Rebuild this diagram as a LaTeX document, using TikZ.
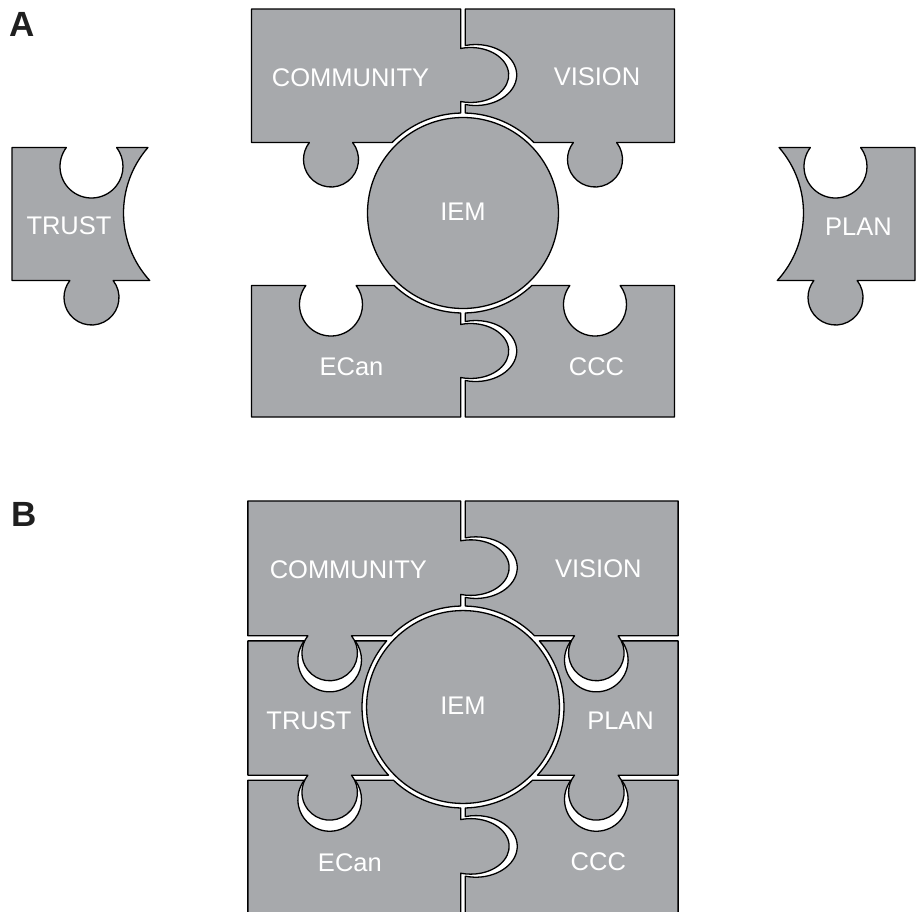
\documentclass[tikz,border=0pt]{standalone}
\usepackage{fontspec}
\setmainfont{Liberation Sans}
\definecolor{puzzlegray}{RGB}{167,169,172}
\tikzset{
  piece/.style={fill=puzzlegray, draw=black, line width=1.3pt, line join=round},
  hub/.style={fill=puzzlegray, draw=black, line width=1.3pt},
  lbl/.style={text=white, font=\fontsize{25.5}{30}\selectfont, inner sep=0pt, anchor=center},
  panel/.style={font=\bfseries\fontsize{35}{40}\selectfont, inner sep=0pt, text=black!88}
}

% ---- puzzle pieces, local frame centred on the hub (y up) ----
\newcommand{\drawCommunityPiece}{%
  \draw[piece] (-\pzW,\pzTt) -- (-\pzg,\pzTt) -- (-\pzg,{\pzyc+\pzhkn})
    arc[start angle=\pzhka, end angle=-\pzhka, x radius=38, y radius=27.5]
    -- ({90+\pzag}:\pzR)
    arc[start angle={90+\pzag}, end angle={180-\pzaT}, radius=\pzR]
    -- ({-\pzkx+\pzkn},\pzTb)
    arc[start angle=\pzka, end angle={-180-\pzka}, radius=\pzkr]
    -- (-\pzW,\pzTb) -- cycle;}
\newcommand{\drawVisionPiece}{%
  \draw[piece] (\pzg,\pzTt) -- (\pzW,\pzTt) -- (\pzW,\pzTb) -- ({\pzkx+\pzkn},\pzTb)
    arc[start angle=\pzka, end angle={-180-\pzka}, radius=\pzkr]
    -- ({\pzaT}:\pzR)
    arc[start angle=\pzaT, end angle={90-\pzag}, radius=\pzR]
    -- (\pzg,{\pzyc-\pzhsn})
    arc[start angle=-\pzhsa, end angle=\pzhsa, x radius=41, y radius=30.5]
    -- cycle;}
\newcommand{\drawTrustPiece}{%
  \draw[piece] (-\pzW,\pzMt) -- ({-\pzkx-\pzsn},\pzMt)
    arc[start angle={180-\pzsa}, end angle={360+\pzsa}, radius=\pzsr]
    -- ({180-\pzaM}:\pzR)
    arc[start angle={180-\pzaM}, end angle={180+\pzaN}, radius=\pzR]
    -- ({-\pzkx+\pzkn},\pzMb)
    arc[start angle=\pzka, end angle={-180-\pzka}, radius=\pzkr]
    -- (-\pzW,\pzMb) -- cycle;}
\newcommand{\drawPlanPiece}{%
  \draw[piece] (\pzW,\pzMt) -- (\pzW,\pzMb) -- ({\pzkx+\pzkn},\pzMb)
    arc[start angle=\pzka, end angle={-180-\pzka}, radius=\pzkr]
    -- ({-\pzaN}:\pzR)
    arc[start angle={-\pzaN}, end angle=\pzaM, radius=\pzR]
    -- ({\pzkx-\pzsn},\pzMt)
    arc[start angle={180-\pzsa}, end angle={360+\pzsa}, radius=\pzsr]
    -- cycle;}
\newcommand{\drawEcanPiece}{%
  \draw[piece] (-\pzW,\pzBt) -- ({-\pzkx-\pzsn},\pzBt)
    arc[start angle={180-\pzsa}, end angle={360+\pzsa}, radius=\pzsr]
    -- ({180+\pzaB}:\pzR)
    arc[start angle={180+\pzaB}, end angle={270-\pzag}, radius=\pzR]
    -- (-\pzg,{-\pzyc+\pzhkn})
    arc[start angle=\pzhka, end angle=-\pzhka, x radius=38, y radius=27.5]
    -- (-\pzg,\pzBot) -- (-\pzW,\pzBot) -- cycle;}
\newcommand{\drawCccPiece}{%
  \draw[piece] ({270+\pzag}:\pzR)
    arc[start angle={270+\pzag}, end angle={360-\pzaB}, radius=\pzR]
    -- ({\pzkx-\pzsn},\pzBt)
    arc[start angle={180-\pzsa}, end angle={360+\pzsa}, radius=\pzsr]
    -- (\pzW,\pzBt) -- (\pzW,\pzBot) -- (\pzg,\pzBot) -- (\pzg,{-\pzyc-\pzhsn})
    arc[start angle=-\pzhsa, end angle=\pzhsa, x radius=41, y radius=30.5]
    -- cycle;}

\begin{document}
\begin{tikzpicture}[x=1pt,y=1pt]
  \useasboundingbox (0,0) rectangle (923,-911);
  \clip (0,0) rectangle (923,-911);

  % geometry
  \def\pzg{2.3}
  \def\pzR{100}
  \def\pzRi{95.5}
  \def\pzTt{204}
  \def\pzTb{70.5}
  \def\pzMt{65.5}
  \def\pzMb{-67.5}
  \def\pzBt{-72.5}
  \def\pzkx{132}
  \def\pzkr{27.5}
  \def\pzsr{31.5}
  \def\pzyc{138}
  \pgfmathsetmacro{\pzkn}{sqrt(27.5*27.5-17*17)}
  \pgfmathsetmacro{\pzka}{atan(17/\pzkn)}
  \pgfmathsetmacro{\pzsn}{sqrt(31.5*31.5-19*19)}
  \pgfmathsetmacro{\pzsa}{atan(19/\pzsn)}
  \pgfmathsetmacro{\pzhka}{acos(-10/38)}
  \pgfmathsetmacro{\pzhkn}{27.5*sin(\pzhka)}
  \pgfmathsetmacro{\pzhsa}{acos(-10.4/41)}
  \pgfmathsetmacro{\pzhsn}{30.5*sin(\pzhsa)}
  \pgfmathsetmacro{\pzag}{asin(2.3/100)}
  \pgfmathsetmacro{\pzaT}{asin(70.5/100)}
  \pgfmathsetmacro{\pzaM}{asin(65.5/100)}
  \pgfmathsetmacro{\pzaN}{asin(67.5/100)}
  \pgfmathsetmacro{\pzaB}{asin(72.5/100)}

  % ===== panel A =====
  \node[panel] (labA) at (22,-24) {A};
  \begin{scope}[shift={(463,-213)}]
    \def\pzW{211.5}\def\pzBot{-204}
    \drawCommunityPiece
    \drawVisionPiece
    \drawEcanPiece
    \drawCccPiece
    \draw[hub] (0,0) circle[radius=\pzRi];
    \node[lbl] (a-community) at (-112.5,135.5) {COMMUNITY};
    \node[lbl] (a-vision) at (134,136) {VISION};
    \node[lbl] (a-iem) at (0,1) {IEM};
    \node[lbl] (a-ecan) at (-111.5,-154) {ECan};
    \node[lbl] (a-ccc) at (133.5,-153.5) {CCC};
  \end{scope}
  \begin{scope}[shift={(223.5,-213)}]
    \def\pzW{211.5}
    \drawTrustPiece
    \node[lbl] (a-trust) at (-154.5,-13) {TRUST};
  \end{scope}
  \begin{scope}[shift={(703.5,-213)}]
    \def\pzW{211.5}
    \drawPlanPiece
    \node[lbl] (a-plan) at (155,-13.5) {PLAN};
  \end{scope}

  % ===== panel B =====
  \node[panel] (labB) at (24.5,-514) {B};
  \begin{scope}[shift={(463,-707)}, scale=1.01]
    \def\pzW{213}\def\pzBot{-215}
    \drawCommunityPiece
    \drawVisionPiece
    \drawTrustPiece
    \drawPlanPiece
    \drawEcanPiece
    \drawCccPiece
    \draw[hub] (0,0) circle[radius=\pzRi];
    \node[lbl] (b-community) at (-113.5,136) {COMMUNITY};
    \node[lbl] (b-vision) at (134,136.5) {VISION};
    \node[lbl] (b-trust) at (-152.5,-14) {TRUST};
    \node[lbl] (b-iem) at (0,1) {IEM};
    \node[lbl] (b-plan) at (156,-14) {PLAN};
    \node[lbl] (b-ecan) at (-112,-154) {ECan};
    \node[lbl] (b-ccc) at (134,-153.5) {CCC};
  \end{scope}
\end{tikzpicture}
\end{document}
